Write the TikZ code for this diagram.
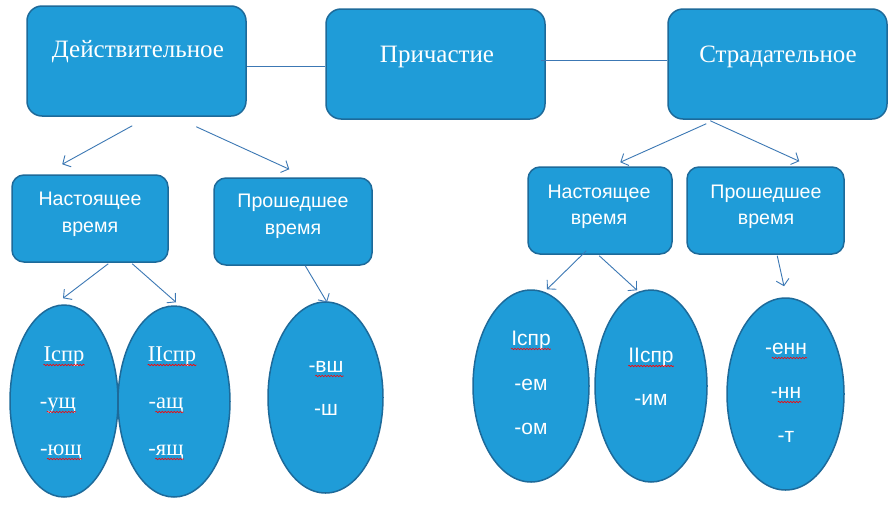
\documentclass[tikz,border=0pt]{standalone}
\usepackage{fontspec}
\setmainfont{Liberation Serif}
\newfontfamily\arialf{Liberation Sans}
\usetikzlibrary{shapes.geometric,arrows.meta,calc,decorations.pathmorphing}
\definecolor{boxfill}{HTML}{1F9CD8}
\definecolor{boxline}{HTML}{1D6A9A}
\definecolor{conn}{HTML}{3C78B4}
\tikzset{
  bigbox/.style={draw=boxline,fill=boxfill,line width=1.5pt,rounded corners=15pt,minimum width=219pt,minimum height=110pt,inner sep=0pt},
  smallbox/.style={draw=boxline,fill=boxfill,line width=1.5pt,rounded corners=12pt,minimum height=87pt,inner sep=0pt},
  oval/.style={ellipse,draw=boxline,fill=boxfill,line width=1.5pt,inner sep=0pt},
  serifbig/.style={text=white,font=\fontsize{25}{30}\selectfont,inner sep=0pt,anchor=base},
  sansbox/.style={text=white,font=\arialf\fontsize{19.6}{27}\selectfont,inner sep=0pt,anchor=base},
  serifov/.style={text=white,font=\fontsize{22.5}{27}\selectfont,inner sep=0pt,anchor=base},
  sansov/.style={text=white,font=\arialf\fontsize{21}{25}\selectfont,inner sep=0pt,anchor=base},
  conline/.style={draw=conn,line width=0.9pt},
  arr/.style={conline,-{Straight Barb[length=6pt,width=13pt,line width=0.9pt]}},
  spell/.style={draw=red,line width=0.6pt,decorate,decoration={snake,amplitude=0.7pt,segment length=3pt}}
}
\begin{document}
\begin{tikzpicture}[x=1pt,y=-1pt]
\useasboundingbox[fill=white] (0,0) rectangle (896,509);
% top boxes
\node[bigbox] (D) at (136.5,61) {};
\node[bigbox] (P) at (435.5,64) {};
\node[bigbox] (S) at (777.5,64) {};
\node[serifbig] (tD) at (138,57) {Действительное};
\node[serifbig] (tP) at (437,62) {Причастие};
\node[serifbig] (tS) at (778,62) {Страдательное};
% horizontal links
\draw[conline] ($(D.east)+(0,5.5)$) -- ($(P.west)+(0,2.5)$);
\draw[conline] ($(P.east)+(-5,-4)$) -- ($(S.west)+(0,-4)$);
% tense boxes
\node[smallbox,minimum width=156pt] (N1) at (90,218.5) {};
\node[smallbox,minimum width=158pt] (R1) at (293,221.5) {};
\node[smallbox,minimum width=144pt] (N2) at (600,210.5) {};
\node[smallbox,minimum width=157pt] (R2) at (765.5,210.5) {};
\node[sansbox] (tN1a) at (90,205) {Настоящее};
\node[sansbox] (tN1b) at (90,232) {время};
\node[sansbox] (tR1a) at (293,207) {Прошедшее};
\node[sansbox] (tR1b) at (293,234) {время};
\node[sansbox] (tN2a) at (599,198) {Настоящее};
\node[sansbox] (tN2b) at (599,224) {время};
\node[sansbox] (tR2a) at (766,198) {Прошедшее};
\node[sansbox] (tR2b) at (766,224) {время};
% ellipses
\node[oval,minimum width=108pt,minimum height=192pt] (E1) at (64,401) {};
\node[oval,minimum width=112pt,minimum height=191pt] (E2) at (174,401.5) {};
\node[oval,minimum width=115pt,minimum height=191pt] (E3) at (325.5,397.5) {};
\node[oval,minimum width=116pt,minimum height=192pt] (E4) at (531,386) {};
\node[oval,minimum width=112pt,minimum height=192pt] (E5) at (651,386) {};
\node[oval,minimum width=117pt,minimum height=192pt] (E6) at (785.5,394) {};
% ellipse texts
\node[serifov] (a1) at (64,361) {Iспр};
\node[serifov] (a2) at (58,408) {-ущ};
\node[serifov] (a3) at (61,455) {-ющ};
\node[serifov] (b1) at (172,361) {IIспр};
\node[serifov] (b2) at (166,408) {-ащ};
\node[serifov] (b3) at (166,455) {-ящ};
\node[sansov] (c1) at (326,372) {-вш};
\node[sansov] (c2) at (326,415) {-ш};
\node[sansov] (d1) at (531,345) {Iспр};
\node[sansov] (d2) at (531,390) {-ем};
\node[sansov] (d3) at (531,434) {-ом};
\node[sansov] (e1) at (651,362) {IIспр};
\node[sansov] (e2) at (651,405) {-им};
\node[sansov] (f1) at (786,354) {-енн};
\node[sansov] (f2) at (786,398) {-нн};
\node[sansov] (f3) at (786,442) {-т};
% spell-check underlines
\draw[spell] ($(a1.base west)+(0,4)$) -- ($(a1.base east)+(0,4)$);
\draw[spell] ($(a2.base west)+(7,4)$) -- ($(a2.base east)+(0,4)$);
\draw[spell] ($(a3.base west)+(7,4)$) -- ($(a3.base east)+(0,4)$);
\draw[spell] ($(b1.base west)+(0,4)$) -- ($(b1.base east)+(0,4)$);
\draw[spell] ($(b2.base west)+(7,4)$) -- ($(b2.base east)+(0,4)$);
\draw[spell] ($(b3.base west)+(7,4)$) -- ($(b3.base east)+(0,4)$);
\draw[spell] ($(c1.base west)+(7,4)$) -- ($(c1.base east)+(0,4)$);
\draw[spell] ($(d1.base west)+(0,4)$) -- ($(d1.base east)+(0,4)$);
\draw[spell] ($(e1.base west)+(0,4)$) -- ($(e1.base east)+(0,4)$);
\draw[spell] ($(f1.base west)+(7,4)$) -- ($(f1.base east)+(0,4)$);
\draw[spell] ($(f2.base west)+(7,4)$) -- ($(f2.base east)+(0,4)$);
% arrows
\draw[arr] ($(D.south west)+(106,9)$) -- ($(N1.north west)+(51,-10)$);
\draw[arr] ($(D.south west)+(170,10)$) -- ($(R1.north west)+(76,-8)$);
\draw[arr] ($(S.south west)+(39,4)$) -- ($(N2.north west)+(93,-4)$);
\draw[arr] ($(S.south west)+(43,1)$) -- ($(R2.north west)+(113,-5)$);
\draw[arr] ($(N1.south west)+(97,1)$) -- ($(E1.north)+(-1,-6)$);
\draw[arr] ($(N1.south west)+(121,1)$) -- ($(E2.north)+(2,-3)$);
\draw[arr] ($(R1.south west)+(92,0)$) -- ($(E3.north)+(1.5,1)$);
\draw[arr] ($(N2.south west)+(59,-4)$) -- ($(E4.north)+(16,0)$);
\draw[arr] ($(N2.south west)+(72,1)$) -- ($(E5.north)+(-14,1)$);
\draw[arr] ($(R2.south west)+(91,1)$) -- ($(E6.north)+(-1.5,-11)$);
\end{tikzpicture}
\end{document}
